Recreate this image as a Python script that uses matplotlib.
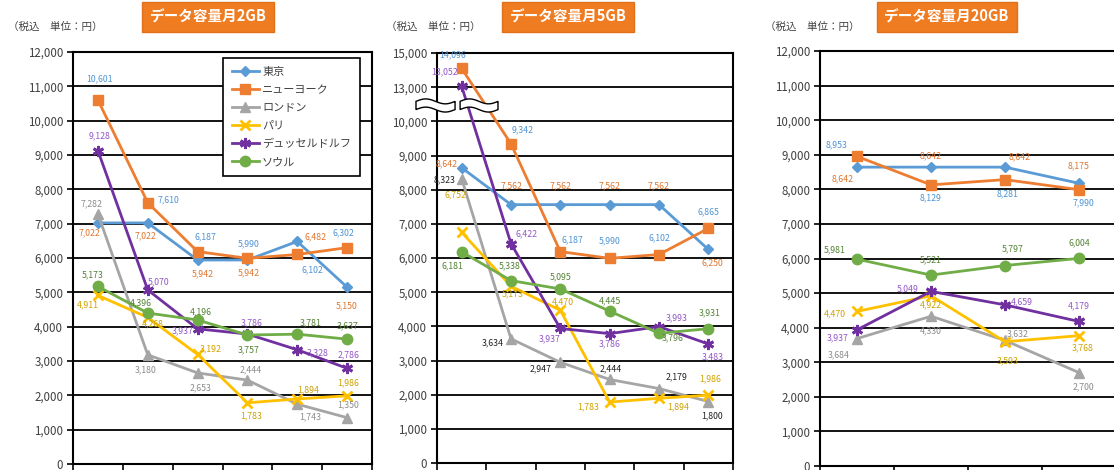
import numpy as np
import matplotlib.pyplot as plt
from matplotlib.ticker import FuncFormatter, FixedLocator
from matplotlib.patches import Polygon

plt.rcParams['font.family'] = ['Noto Sans CJK JP', 'DejaVu Sans']

cities = ['東京', 'ニューヨーク', 'ロンドン', 'パリ', 'デュッセルドルフ', 'ソウル']
titles = ['データ容量月2GB', 'データ容量月5GB', 'データ容量月20GB']
unit_text = '（税込　単位：円）'

# データ容量月2GB
tokyo_2 = [7022, 7022, 5942, 5942, 6482, 5150]
ny_2 = [10601, 7610, 6187, 5990, 6102, 6302]
london_2 = [7282, 3180, 2653, 2444, 1743, 1350]
paris_2 = [4911, 4268, 3192, 1783, 1894, 1986]
dus_2 = [9128, 5070, 3937, 3786, 3328, 2786]
seoul_2 = [5173, 4396, 4196, 3757, 3781, 3637]

# データ容量月5GB
tokyo_5 = [8642, 7562, 7562, 7562, 7562, 6250]
ny_5 = [14096, 9342, 6187, 5990, 6102, 6865]
london_5 = [8323, 3634, 2947, 2444, 2179, 1800]
paris_5 = [6752, 5173, 4470, 1783, 1894, 1986]
dus_5 = [13052, 6422, 3937, 3786, 3993, 3483]
seoul_5 = [6181, 5338, 5095, 4445, 3796, 3931]

# データ容量月20GB
tokyo_20 = [8642, 8642, 8642, 8175]
ny_20 = [8953, 8129, 8281, 7990]
london_20 = [3684, 4330, 3632, 2700]
paris_20 = [4470, 4922, 3593, 3768]
dus_20 = [3937, 5049, 4659, 4179]
seoul_20 = [5981, 5521, 5797, 6004]

# styles
line_colors = ['#5B9BD5', '#ED7D31', '#A5A5A5', '#FFC000', '#7030A0', '#70AD47']
markers = ['D', 's', '^', 'x', (6, 2, 0), 'o']
msizes = [5, 7, 7, 7, 8, 7.5]
# label colours as in the original (東京 / NY swapped)
lab_colors = ['#E0762E', '#4F94D4', '#8C8C8C', '#CFA200', '#9358C8', '#548235']
lab_colors_5 = ['#E0762E', '#4F94D4', '#222222', '#CFA200', '#9358C8', '#548235']

# label offsets in pixels (dx, dy with dy downwards)
off_2 = [
    [(-8, 10), (-2, 13), (5, 14), (1, 13), (18, -5), (0, 19)],
    [(2, -21), (21, -3), (8, -15), (1, -15), (15, 15), (-4, -15)],
    [(-6, -10), (-2, 15), (3, 15), (3, -10), (13, 13), (1, -13)],
    [(-10, 9), (5, 6), (13, -6), (4, 13), (11, -9), (1, -13)],
    [(2, -15), (11, -8), (-15, 2), (4, -11), (20, 3), (1, -14)],
    [(-5, -12), (-7, -10), (3, -8), (1, 15), (13, -11), (1, -13)],
]
off_5 = [
    [(-15, -4), (1, -19), (0, -19), (0, -19), (0, -19), (4, 13)],
    [(-9, -14), (12, -14), (12, -12), (0, -18), (0, -17), (0, -17)],
    [(-17, 1), (-18, 4), (-20, 7), (1, -11), (18, -12), (4, 14)],
    [(-6, -37), (2, 8), (2, -8), (-22, 5), (19, 9), (2, -16)],
    [(-17, -14), (16, -10), (-11, 10), (0, 10), (18, -9), (4, 13)],
    [(-9, 14), (-1, -15), (0, -12), (0, -10), (14, 5), (1, -16)],
]
off_20 = [
    [(-14, 12), (0, -11), (15, -10), (0, -17)],
    [(-20, -12), (0, 13), (3, 14), (4, 13)],
    [(-18, 16), (0, 15), (13, -7), (4, 14)],
    [(-22, 2), (0, 9), (3, 19), (4, 12)],
    [(-19, 8), (-23, -3), (17, -3), (0, -16)],
    [(-22, -9), (0, -15), (8, -17), (0, -16)],
]

W, H = 1114, 470
fig = plt.figure(figsize=(W / 100, H / 100), dpi=100)


def px_axes(l, t, r, b):
    return fig.add_axes([l / W, 1 - b / H, (r - l) / W, (b - t) / H])


# broken axis for the 5GB panel
def fwd(v):
    v = np.asarray(v, dtype=float)
    return np.where(v <= 10000, v / 1000,
                    np.where(v < 13000, 10 + (v - 10000) / 3000, 11 + (v - 13000) / 2000))


def inv(s):
    s = np.asarray(s, dtype=float)
    return np.where(s <= 10, s * 1000,
                    np.where(s < 11, 10000 + (s - 10) * 3000, 13000 + (s - 11) * 2000))


def draw_panel(ax, series, offsets, lcols, ymax, yticks):
    n = len(series[0])
    x = np.arange(1, n + 1)
    for i, vals in enumerate(series):
        ax.plot(x, vals, color=line_colors[i], lw=2, marker=markers[i],
                ms=msizes[i], mew=2 if markers[i] in ('x', (6, 2, 0)) else 1,
                mfc=line_colors[i], mec=line_colors[i], label=cities[i], zorder=3 + i,
                clip_on=False)
        for j, v in enumerate(vals):
            dx, dy = offsets[i][j]
            ax.annotate(f'{v:,}', (x[j], v), xytext=(dx, -dy), textcoords='offset pixels',
                        ha='center', va='center', fontsize=6.3, color=lcols[i], zorder=20)
    ax.set_xlim(0.5, n + 0.5)
    ax.set_ylim(0, ymax)
    ax.yaxis.set_major_locator(FixedLocator(yticks))
    ax.yaxis.set_major_formatter(FuncFormatter(lambda v, p: f'{int(round(v)):,}'))
    ax.set_xticks([])
    ax.set_xticks(np.arange(0.5, n + 1), minor=True)
    ax.tick_params(axis='x', which='minor', length=8, width=1.2, color='black')
    ax.tick_params(axis='y', length=4, width=1.2, color='black', labelsize=8.3,
                   labelcolor='#404040', pad=3)
    ax.grid(axis='y', color='black', lw=1.3)
    ax.set_axisbelow(True)
    for s in ax.spines.values():
        s.set_color('black')
        s.set_linewidth(1.5)


ax1 = px_axes(73, 52, 372, 464)
draw_panel(ax1, [tokyo_2, ny_2, london_2, paris_2, dus_2, seoul_2], off_2, lab_colors,
           12000, range(0, 12001, 1000))

ax2 = px_axes(437, 53, 733, 463)
ax2.set_yscale('function', functions=(fwd, inv))
draw_panel(ax2, [tokyo_5, ny_5, london_5, paris_5, dus_5, seoul_5], off_5, lab_colors_5,
           15000, list(range(0, 10001, 1000)) + [13000, 15000])

ax3 = px_axes(820, 51, 1116, 466)
draw_panel(ax3, [tokyo_20, ny_20, london_20, paris_20, dus_20, seoul_20], off_20, lab_colors,
           12000, range(0, 12001, 1000))

# break marks on the 5GB panel
t = np.linspace(0, 1, 40)
for x0, x1 in [(-0.071, 0.061), (0.078, 0.206)]:
    xs = x0 + (x1 - x0) * t
    wave = 0.006 * np.sin(2 * np.pi * t)
    top = 0.872 + 0.010 + wave
    bot = 0.872 - 0.010 + wave
    pts = np.column_stack([np.concatenate([xs, xs[::-1]]), np.concatenate([top, bot[::-1]])])
    ax2.add_patch(Polygon(pts, closed=True, transform=ax2.transAxes, facecolor='white',
                          edgecolor='black', lw=1.0, clip_on=False, zorder=30))

# legend
leg = ax1.legend(loc='upper right', bbox_to_anchor=(360 / W, 1 - 58 / H),
                 bbox_transform=fig.transFigure, borderaxespad=0, fancybox=False,
                 framealpha=1, edgecolor='black', fontsize=8, handlelength=2.4,
                 labelspacing=0.72, borderpad=0.8, handletextpad=0.3)
leg.get_frame().set_linewidth(1.2)
for txt in leg.get_texts():
    txt.set_color('#404040')

# titles and unit notes
for title, cx, ux in zip(titles, [208, 568, 947], [8, 386, 765]):
    fig.text(cx / W, 1 - 17 / H, title, ha='center', va='center', fontsize=10.5,
             fontweight='bold', color='white',
             bbox=dict(boxstyle='square,pad=0.5', facecolor='#F07C22', edgecolor='#E0701A'))
    fig.text(ux / W, 1 - 27 / H, unit_text, ha='left', va='center', fontsize=7.6,
             color='#404040')

fig.savefig('out.png', dpi=100)
